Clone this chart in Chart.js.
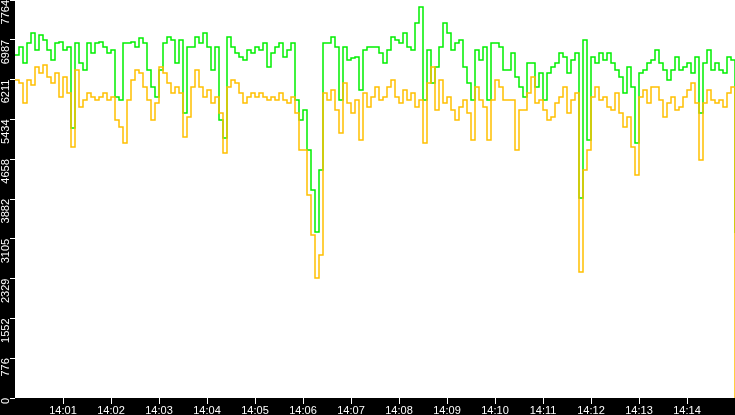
<!DOCTYPE html>
<html>
<head>
<meta charset="utf-8">
<script src="https://cdn.jsdelivr.net/npm/chart.js@4.4.0/dist/chart.umd.min.js"></script>
<style>
html,body{margin:0;padding:0;background:#000;}
#wrap{width:735px;height:415px;position:relative;}
</style>
</head>
<body>
<div id="wrap"><canvas id="myChart"></canvas></div>
<script>
// samples every 5 s from 14:00:00 to 14:15:00
var stepSeconds = 5;

var greenValues = [
    6691,6847,6535,6925,7120,6789,7082,6984,6789,6594,
    6925,6945,6789,6847,5267,6925,6535,6399,6925,6730,
    6925,6945,6847,6730,6789,5872,5813,6925,6925,6945,
    6847,7023,6925,6399,6067,5872,6399,6925,7042,6984,
    6535,6984,5560,6847,6847,7042,6925,7120,6847,6399,
    6847,5423,5072,7042,6847,6730,6652,6594,6789,6730,
    6847,6789,6925,6457,6730,6847,6925,6652,6789,6925,
    5813,5423,5618,4838,4058,3238,4448,6925,6925,7042,
    6847,5813,6847,6594,6633,6652,6008,6789,6847,6847,
    6847,6730,6535,6789,7042,6984,6925,7120,6847,6789,
    7316,7628,5813,6789,6145,6457,6847,7316,7120,6789,
    6925,6984,6457,6145,5813,6789,6594,6847,5813,6925,
    6925,6847,6399,6399,6730,6262,6067,5872,6535,6535,
    6067,6340,5813,6340,6457,6535,6730,6652,6340,6594,
    6730,3902,6984,5033,6652,6535,6730,6594,6730,6535,
    6399,6262,5950,6457,6067,4975,6340,6399,6535,6594,
    6789,6535,6399,6204,6399,6652,6399,6457,6535,6340,
    6652,5560,6535,6789,6399,6535,6399,6340,6652,6594,
    3219
];

var yellowValues = [
    6204,6145,5755,6204,6106,6457,6340,6496,6262,6145,
    6340,5872,6262,5950,4897,6399,5677,5813,5950,5872,
    5813,5872,5950,5813,5872,5423,5287,4975,5813,6204,
    6399,6340,6067,5813,5423,5755,6457,6340,6145,5950,
    6067,5950,5092,5482,6067,6399,6067,5872,6008,5755,
    5872,5560,4779,6067,6204,6145,5950,5755,5872,5950,
    5872,5950,5872,5813,5872,5813,5950,5813,5755,5872,
    5560,4838,4838,3960,3180,2341,2790,5950,5813,6008,
    5618,5170,6145,5755,5560,5813,5033,5950,5677,5872,
    6067,5813,5872,6067,6204,5872,5755,6008,5813,5950,
    5677,5813,4975,6145,6457,5618,6204,5755,5872,5618,
    5423,5677,5813,5560,5033,6067,5813,5677,5033,5813,
    6204,6067,5813,5813,5813,4838,5618,5618,5950,6262,
    5755,5813,5618,5423,5482,5755,5872,6067,5560,5813,
    5950,2458,4448,4838,5872,6067,5813,5872,5677,5618,
    5950,5560,5287,5482,4897,4350,5872,6008,5755,6067,
    6067,5813,5482,5755,5872,5618,5677,5872,6008,6145,
    5755,4643,5755,6008,5813,5755,5813,5677,5950,6067,
    0
];

var yTicks = [0, 776, 1552, 2329, 3105, 3882, 4658, 5434, 6211, 6987, 7764];
var xTickLabels = ["14:01","14:02","14:03","14:04","14:05","14:06","14:07","14:08","14:09","14:10","14:11","14:12","14:13","14:14"];
var yMax = 7764;
var xMax = 900;

function toPoints(values) {
    var pts = [];
    for (let i = 0; i < values.length; i++) {
        pts.push({x: i * stepSeconds, y: values[i]});
    }
    return pts;
}

// black frame, white plot area
var bgPlugin = {
    id: "bg",
    beforeDraw: function(chart) {
        var c = chart.ctx, a = chart.chartArea;
        c.save();
        c.fillStyle = "#000";
        c.fillRect(0, 0, chart.width, chart.height);
        c.fillStyle = "#fff";
        c.fillRect(a.left, a.top, a.right - a.left, a.bottom - a.top);
        c.restore();
    }
};

new Chart("myChart", {
    type: "line",
    data: {
        datasets: [{
            data: toPoints(yellowValues),
            borderColor: "#ffc000",
            borderWidth: 1.5,
            pointRadius: 0,
            stepped: true,
            fill: false
        }, {
            data: toPoints(greenValues),
            borderColor: "#00f000",
            borderWidth: 1.5,
            pointRadius: 0,
            stepped: true,
            fill: false
        }]
    },
    options: {
        animation: false,
        responsive: true,
        maintainAspectRatio: false,
        devicePixelRatio: 1,
        layout: { padding: 0 },
        plugins: { legend: { display: false }, tooltip: { enabled: false } },
        scales: {
            x: {
                type: "linear",
                min: 0,
                max: xMax,
                afterBuildTicks: function(s) {
                    s.ticks = xTickLabels.map(function(l, i) { return {value: (i + 1) * 60}; });
                },
                ticks: {
                    autoSkip: false,
                    maxRotation: 0,
                    minRotation: 0,
                    padding: 0,
                    color: "#fff",
                    font: { family: "Liberation Sans", size: 11 },
                    callback: function(v, i) { return xTickLabels[i]; }
                },
                grid: { drawOnChartArea: false, color: "#fff", tickLength: 6 },
                border: { display: false },
                afterFit: function(s) { s.height = 17; s.paddingLeft = 0; s.paddingRight = 0; }
            },
            y: {
                min: 0,
                max: yMax,
                afterBuildTicks: function(s) {
                    s.ticks = yTicks.map(function(v) { return {value: v}; });
                },
                ticks: {
                    minRotation: 90,
                    maxRotation: 90,
                    padding: 4,
                    color: "#fff",
                    font: { family: "Liberation Sans", size: 11 },
                    callback: function(v, i) { return String(yTicks[i]); }
                },
                grid: { drawOnChartArea: false, color: "#fff", tickLength: 5 },
                border: { display: false },
                afterFit: function(s) { s.width = 15; s.paddingTop = 0; s.paddingBottom = 0; }
            }
        }
    },
    plugins: [bgPlugin]
});
</script>
</body>
</html>
